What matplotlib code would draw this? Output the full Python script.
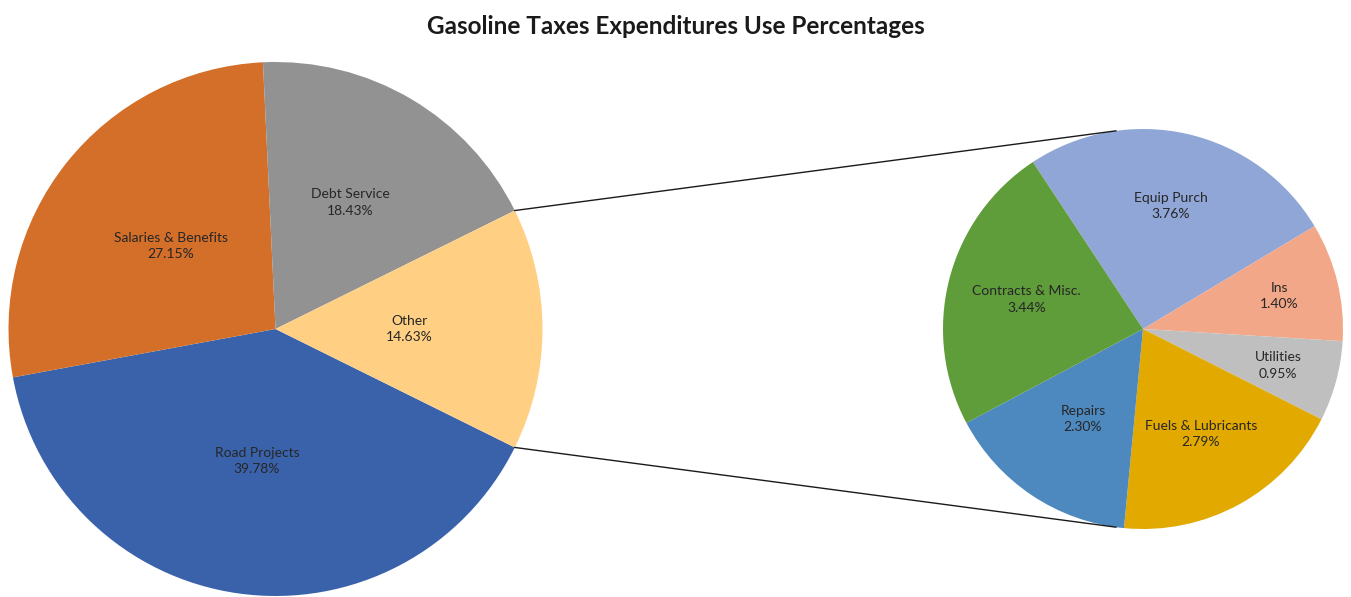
import numpy as np
import matplotlib.pyplot as plt

# %% data
main_names = ["Road Projects", "Salaries & Benefits", "Debt Service", "Other"]
main_pct = [39.78, 27.15, 18.43, 14.63]

other_names = ["Equip Purch", "Ins", "Utilities", "Fuels & Lubricants",
               "Repairs", "Contracts & Misc."]
other_pct = [3.76, 1.40, 0.95, 2.79, 2.30, 3.44]

main_colors = ["#3A62AB", "#D36F29", "#929292", "#FFD084"]
other_colors = ["#8FA6D7", "#F2A888", "#BFBFBF", "#E2A900", "#4D88BF", "#5F9C3A"]

# label distance (fraction of radius) for each slice
main_ldist = [0.50, 0.50, 0.55, 0.50]
other_ldist = [0.63, 0.70, 0.70, 0.60, 0.54, 0.60]

plt.rcParams['font.family'] = ['Lato', 'DejaVu Sans']
txt_color = "#262626"

# %% figure in pixel units
fig = plt.figure(figsize=(13.51, 5.97), dpi=100)
ax = fig.add_axes([0, 0, 1, 1])

c1, r1 = (275.5, 268.0), 267.0
c2, r2 = (1143.0, 268.0), 200.0

other_share = main_pct[-1] / sum(main_pct)
w1, _ = ax.pie(main_pct, colors=main_colors, startangle=-other_share * 180,
               counterclock=False, center=c1, radius=r1,
               wedgeprops=dict(linewidth=0), frame=True)
w2, _ = ax.pie(other_pct, colors=other_colors, startangle=123.4,
               counterclock=False, center=c2, radius=r2,
               wedgeprops=dict(linewidth=0), frame=True)
ax.set_xlim(0, 1351)
ax.set_ylim(0, 597)
ax.set_aspect('equal')
ax.axis('off')


def put_labels(wedges, names, pct, dists, c, r):
    for w, n, p, d in zip(wedges, names, pct, dists):
        a = np.deg2rad((w.theta1 + w.theta2) / 2)
        x = c[0] + d * r * np.cos(a)
        y = c[1] + d * r * np.sin(a)
        ax.text(x, y, f"{n}\n{p:.2f}%", ha='center', va='center',
                fontsize=10, color=txt_color, linespacing=1.45)


put_labels(w1, main_names, main_pct, main_ldist, c1, r1)
put_labels(w2, other_names, other_pct, other_ldist, c2, r2)

# connector lines from the "Other" slice edges to the secondary pie
ow = w1[-1]
for t1, t2 in [(ow.theta2, 97.8), (ow.theta1, -97.8)]:
    a1, a2 = np.deg2rad(t1), np.deg2rad(t2)
    ax.plot([c1[0] + r1 * np.cos(a1), c2[0] + r2 * np.cos(a2)],
            [c1[1] + r1 * np.sin(a1), c2[1] + r2 * np.sin(a2)],
            color="#1a1a1a", lw=1.0)

fig.text(0.5, 1 - 27 / 597, "Gasoline Taxes Expenditures Use Percentages",
         ha='center', va='center', fontsize=17.5, fontweight='bold', color='#1a1a1a')

fig.savefig("out.png", dpi=100)
